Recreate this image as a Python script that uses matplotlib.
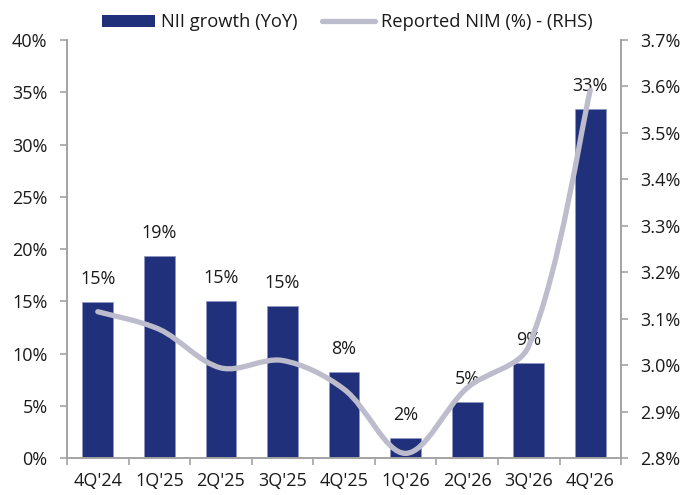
import numpy as np
import matplotlib
matplotlib.use('Agg')
import matplotlib.pyplot as plt
from matplotlib.path import Path
from matplotlib.patches import PathPatch, Patch
from matplotlib.lines import Line2D
from matplotlib.ticker import FuncFormatter, MultipleLocator

plt.rcParams['font.family'] = ['Open Sans', 'DejaVu Sans']

quarters = ["4Q'24", "1Q'25", "2Q'25", "3Q'25", "4Q'25", "1Q'26", "2Q'26", "3Q'26", "4Q'26"]
nii_growth = [14.9, 19.35, 15.05, 14.55, 8.27, 1.91, 5.35, 9.07, 33.4]
nim = [3.115, 3.077, 2.994, 3.010, 2.948, 2.810, 2.951, 3.041, 3.592]

bar_color = '#21307A'
line_color = '#BDBCCC'
axis_color = '#A3A3A3'
text_color = '#1A1A1A'


def smooth_path(a, xs, ys, k=1/3):
    # excel-like smoothed line: tangents weighted by segment length on screen
    tr = a.transData
    p = tr.transform(np.column_stack([xs, ys]).astype(float))
    n = len(p)
    verts = [p[0]]
    codes = [Path.MOVETO]
    for i in range(n - 1):
        p1, p2 = p[i], p[i + 1]
        d12 = np.hypot(*(p2 - p1))
        if i == 0:
            c1 = p1 + (p2 - p1) / 6
        else:
            d01 = np.hypot(*(p1 - p[i - 1]))
            c1 = p1 + (p2 - p[i - 1]) * k * d12 / (d01 + d12)
        if i == n - 2:
            c2 = p2 - (p2 - p1) / 6
        else:
            d23 = np.hypot(*(p[i + 2] - p2))
            c2 = p2 - (p[i + 2] - p1) * k * d12 / (d12 + d23)
        verts += [c1, c2, p2]
        codes += [Path.CURVE4] * 3
    verts = tr.inverted().transform(np.array(verts))
    return Path(verts, codes)


fig = plt.figure(figsize=(6.81, 4.95), dpi=100)
ax = fig.add_axes([0.0984, 0.0747, 0.8136, 0.8445])
ax2 = ax.twinx()

x = np.arange(len(quarters))
ax.bar(x, nii_growth, width=0.5, color=bar_color, edgecolor='#8F96C4', linewidth=0.5, zorder=2)
for xi, v in zip(x, nii_growth):
    ax.annotate(f'{v:.0f}%', (xi, v), xytext=(0, 10), textcoords='offset points',
                ha='center', va='bottom', fontsize=13, color=text_color)

ax.set_xlim(-0.5, len(quarters) - 0.5)
ax.set_ylim(0, 40)
ax.yaxis.set_major_locator(MultipleLocator(5))
ax.yaxis.set_major_formatter(FuncFormatter(lambda v, p: f'{v:.0f}%'))
ax.set_xticks(x)
ax.set_xticklabels(quarters)
ax.set_xticks(np.arange(-0.5, len(quarters)), minor=True)
ax.tick_params(axis='x', which='major', length=0, pad=10, labelsize=13, labelcolor=text_color)
ax.tick_params(axis='x', which='minor', length=5, width=1.2, color=axis_color, direction='out')
ax.tick_params(axis='y', length=5, width=1.2, color=axis_color, pad=9, labelsize=13, labelcolor=text_color)

ax2.set_ylim(2.8, 3.7)
ax2.yaxis.set_major_locator(MultipleLocator(0.1))
ax2.yaxis.set_major_formatter(FuncFormatter(lambda v, p: f'{v:.1f}%'))
ax2.tick_params(axis='y', length=5, width=1.2, color=axis_color, pad=9, labelsize=13, labelcolor=text_color)
ax2.add_patch(PathPatch(smooth_path(ax2, x, nim), facecolor='none', edgecolor=line_color,
                        linewidth=3.8, capstyle='round', joinstyle='round', zorder=3))

for a in (ax, ax2):
    a.spines['top'].set_visible(False)
    for s in ('left', 'right', 'bottom'):
        a.spines[s].set_color(axis_color)
        a.spines[s].set_linewidth(1.2)

handles = [Patch(facecolor=bar_color, edgecolor='none', label='NII growth (YoY)'),
           Line2D([0], [0], color=line_color, linewidth=3.8, solid_capstyle='round',
                  label='Reported NIM (%) - (RHS)')]
fig.legend(handles=handles, loc='center', bbox_to_anchor=(0.51, 0.955), ncol=2, frameon=False,
           fontsize=13.2, handlelength=2.9, handleheight=0.6, handletextpad=0.3, columnspacing=1.35,
           labelcolor=text_color)

fig.savefig('out.png', dpi=100)
